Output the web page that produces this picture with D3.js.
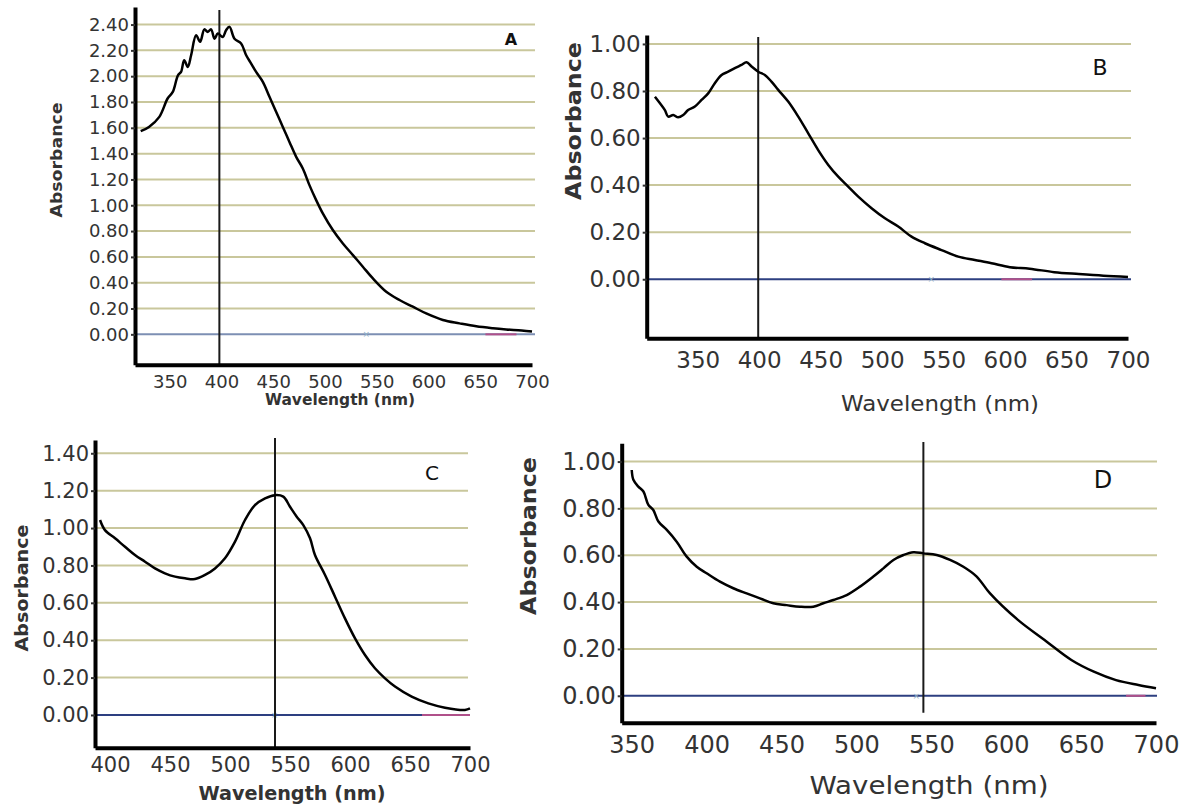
<!DOCTYPE html>
<html><head><meta charset="utf-8">
<script src="https://cdn.jsdelivr.net/npm/d3@7"></script>
<style>
html,body{margin:0;padding:0;background:#fff;}
svg{display:block;}
text{font-family:"DejaVu Sans",sans-serif;fill:#333;}
</style></head>
<body>
<svg id="chart" width="1200" height="811"></svg>
<script>
// ---------------- DATA ----------------
const panelNames = ["A","B","C","D"];

const aWave = [322,330,340,348,353,358,361,364,367.5,370.7,375.5,379.4,383.5,386.8,390,393.3,396.5,401.3,404.5,407.8,412.6,419,423.9,428.7,433.5,440,446.4,452.8,459.3,465.7,472.2,478.6,485,491.5,497.9,507.6,517.3,527,536.6,546.3,559.2,572,584.9,597.8,613.9,630,646.1,662.2,675,690,700];
const aAbs  = [1.574,1.607,1.685,1.827,1.878,2.007,2.033,2.124,2.072,2.162,2.317,2.266,2.363,2.343,2.363,2.29,2.33,2.304,2.356,2.382,2.29,2.253,2.162,2.098,2.033,1.956,1.84,1.724,1.607,1.491,1.375,1.285,1.156,1.04,0.937,0.808,0.704,0.614,0.524,0.433,0.33,0.266,0.214,0.162,0.111,0.085,0.062,0.047,0.038,0.03,0.022];

const bWave = [315.2,319.3,323.3,326,330.1,334.1,338.2,342.2,347.7,353.1,358.5,363.9,369.4,374.8,380.2,385.6,389.7,393.8,399.2,404.6,410,415.5,423.6,431.8,439.9,448,456.2,464.3,472.4,480.6,491.4,502.3,513.1,523.9,534.8,548.3,561.9,575.4,589,603.9,620,640,660,680,700];
const bAbs  = [0.776,0.748,0.719,0.691,0.698,0.688,0.698,0.719,0.734,0.762,0.79,0.833,0.868,0.882,0.897,0.911,0.922,0.904,0.882,0.868,0.84,0.805,0.755,0.691,0.62,0.549,0.486,0.436,0.394,0.351,0.302,0.259,0.224,0.181,0.153,0.124,0.096,0.082,0.068,0.051,0.045,0.03,0.022,0.015,0.01];

const cWave = [391.7,395.8,404.2,412.5,420.8,429.2,437.5,445.8,454.2,462.5,470.8,479.2,487.5,495.8,504.2,512.5,520.8,529.2,537.5,544.4,550,555.6,561.1,566.7,570.8,579.2,587.5,595.8,604.2,612.5,620.8,629.2,637.5,651.4,665.3,679.2,695.8,700];
const cAbs  = [1.043,0.989,0.945,0.9,0.856,0.82,0.784,0.758,0.74,0.731,0.727,0.749,0.784,0.838,0.927,1.043,1.123,1.159,1.176,1.168,1.114,1.061,1.016,0.945,0.856,0.749,0.633,0.517,0.41,0.321,0.25,0.196,0.152,0.098,0.062,0.039,0.027,0.035];

const dWave = [350,351.1,354.4,357.8,361.1,364.4,367.8,373.4,380,386.7,393.4,400,408.9,417.8,426.7,435.6,444.5,453.4,462.3,471.2,477.9,484.6,493.5,502.4,511.3,518,524.7,531.4,538,544.7,553.6,562.5,571.4,580.3,589.2,607.8,625.6,643.5,658.5,673.3,688.2,700];
const dAbs  = [0.964,0.922,0.893,0.872,0.815,0.793,0.744,0.708,0.658,0.594,0.551,0.523,0.487,0.459,0.437,0.416,0.395,0.387,0.38,0.38,0.395,0.409,0.43,0.466,0.509,0.544,0.58,0.601,0.613,0.608,0.601,0.58,0.551,0.509,0.437,0.324,0.238,0.153,0.103,0.067,0.046,0.032];

// lambda-max markers (vertical lines)
const lambdaMax = [398, 399.2, 537.5, 544.7];

// tick labels
const xTicksA = [350,400,450,500,550,600,650,700];
const xTicksB = [350,400,450,500,550,600,650,700];
const xTicksC = [400,450,500,550,600,650,700];
const xTicksD = [350,400,450,500,550,600,650,700];
const yTicksA = [0,0.2,0.4,0.6,0.8,1.0,1.2,1.4,1.6,1.8,2.0,2.2,2.4];
const yTicksB = [0,0.2,0.4,0.6,0.8,1.0];
const yTicksC = [0,0.2,0.4,0.6,0.8,1.0,1.2,1.4];
const yTicksD = [0,0.2,0.4,0.6,0.8,1.0];

// baseline marker positions (small cross on zero line and magenta segment)
const crossWave = [540, 540, 537, 540];
const segWave = [[655,685],[597,622],[660,700],[680,693]];

const xTitle = "Wavelength (nm)";
const yTitle = "Absorbance";

// ---------------- LAYOUT ----------------
const layout = [
  {wave:aWave, abs:aAbs, xt:xTicksA, yt:yTicksA,
   xd:[316.5,700], xr:[135,532], yd:[-0.236,2.536], yr:[364.8,7], gridEnd:535,
   vTop:10, vBot:364.8, zeroCol:"#7d8fb3",
   tickFs:18, xLabY:381,
   yTitle:{x:57,y:160,fs:15,len:115,w:"bold"},
   xTitle:{x:340,y:400,fs:15,len:150,w:"bold"},
   tag:{x:511,y:39,fs:16,w:"bold"}},
  {wave:bWave, abs:bAbs, xt:xTicksB, yt:yTicksB,
   xd:[308.5,700], xr:[646.7,1128], yd:[-0.251,1.038], yr:[338.3,35], gridEnd:1131,
   vTop:37, vBot:338.3, zeroCol:"#2d3f80",
   tickFs:23, xLabY:360,
   yTitle:{x:574,y:121,fs:21,len:158,w:"bold"},
   xTitle:{x:940,y:403,fs:22,len:198,w:"normal"},
   tag:{x:1100,y:67,fs:22,w:"normal"}},
  {wave:cWave, abs:cAbs, xt:xTicksC, yt:yTicksC,
   xd:[387.5,700], xr:[95,470], yd:[-0.175,1.471], yr:[747.7,440], gridEnd:468,
   vTop:438, vBot:747.7, zeroCol:"#2d3f80",
   tickFs:21, xLabY:765,
   yTitle:{x:22,y:588,fs:17,len:127,w:"bold"},
   xTitle:{x:292,y:793,fs:19,len:187,w:"bold"},
   tag:{x:432,y:473,fs:20,w:"normal"}},
  {wave:dWave, abs:dAbs, xt:xTicksD, yt:yTicksD,
   xd:[343.3,700], xr:[621.7,1156], yd:[-0.115,1.078], yr:[722.7,443.3], gridEnd:1157,
   vTop:442, vBot:712.7, zeroCol:"#2d3f80",
   tickFs:24, xLabY:745,
   yTitle:{x:529,y:536,fs:21,len:158,w:"bold"},
   xTitle:{x:929,y:785,fs:25,len:239,w:"normal"},
   tag:{x:1103,y:480,fs:24,w:"normal"}}
];

const svg = d3.select("#chart");
const fmt = d3.format(".2f");

layout.forEach((p,i)=>{
  const x = d3.scaleLinear().domain(p.xd).range(p.xr);
  const y = d3.scaleLinear().domain(p.yd).range(p.yr);
  const g = svg.append("g");

  // gridlines
  g.selectAll(".grid").data(p.yt.filter(v=>v>0)).join("line")
    .attr("x1",p.xr[0]).attr("x2",p.gridEnd)
    .attr("y1",d=>y(d)).attr("y2",d=>y(d))
    .attr("stroke","#c9c79c").attr("stroke-width",2);

  // zero line
  g.append("line").attr("x1",p.xr[0]).attr("x2",p.gridEnd)
    .attr("y1",y(0)).attr("y2",y(0)).attr("stroke",p.zeroCol).attr("stroke-width",2);
  // small cross marker and magenta segment on baseline
  g.append("text").attr("x",x(crossWave[i])).attr("y",y(0)).attr("dy","0.35em")
    .attr("text-anchor","middle").style("font-size","9px").style("fill","#8fb0c8").text("×");
  g.append("line").attr("x1",x(segWave[i][0])).attr("x2",x(segWave[i][1]))
    .attr("y1",y(0)).attr("y2",y(0)).attr("stroke","#b0508a").attr("stroke-width",2);

  // vertical lambda-max line
  g.append("line").attr("x1",x(lambdaMax[i])).attr("x2",x(lambdaMax[i]))
    .attr("y1",p.vTop).attr("y2",p.vBot).attr("stroke","#1a1a1a").attr("stroke-width",2);

  // curve
  const pts = p.wave.map((w,k)=>[w,p.abs[k]]);
  g.append("path").datum(pts)
    .attr("d",d3.line().curve(d3.curveCatmullRom.alpha(0.5)).x(d=>x(d[0])).y(d=>y(d[1])))
    .attr("fill","none").attr("stroke","#000").attr("stroke-width",2.5)
    .attr("stroke-linejoin","round");

  // axes
  const yAx = g.append("g").attr("transform",`translate(${p.xr[0]},0)`)
    .call(d3.axisLeft(y).tickValues(p.yt).tickFormat(fmt).tickSize(4).tickSizeOuter(0).tickPadding(2));
  const xAx = g.append("g").attr("transform",`translate(0,${p.yr[0]})`)
    .call(d3.axisBottom(x).tickValues(p.xt).tickFormat(d3.format("d")).tickSize(0).tickSizeOuter(0).tickPadding(4));
  [yAx,xAx].forEach(a=>{
    a.select(".domain").attr("stroke","#000").attr("stroke-width",4);
    a.selectAll(".tick line").attr("stroke","#333").attr("stroke-width",2);
    a.selectAll("text").style("font-size",p.tickFs+"px").style("fill","#333")
      .style("font-family","'DejaVu Sans',sans-serif");
  });
  xAx.selectAll("text").attr("y",null).attr("dy",null)
    .attr("transform",`translate(0,${p.xLabY-p.yr[0]})`).attr("dominant-baseline","central");

  // titles
  g.append("text").attr("transform",`translate(${p.yTitle.x},${p.yTitle.y}) rotate(-90)`)
    .attr("text-anchor","middle").attr("dominant-baseline","central")
    .attr("textLength",p.yTitle.len).attr("lengthAdjust","spacingAndGlyphs")
    .style("font-size",p.yTitle.fs+"px").style("font-weight",p.yTitle.w).text(yTitle);
  g.append("text").attr("x",p.xTitle.x).attr("y",p.xTitle.y)
    .attr("text-anchor","middle").attr("dominant-baseline","central")
    .attr("textLength",p.xTitle.len).attr("lengthAdjust","spacingAndGlyphs")
    .style("font-size",p.xTitle.fs+"px").style("font-weight",p.xTitle.w).text(xTitle);
  g.append("text").attr("x",p.tag.x).attr("y",p.tag.y)
    .attr("text-anchor","middle").attr("dominant-baseline","central")
    .style("font-size",p.tag.fs+"px").style("font-weight",p.tag.w).style("fill","#111").text(panelNames[i]);
});
</script>
</body></html>
